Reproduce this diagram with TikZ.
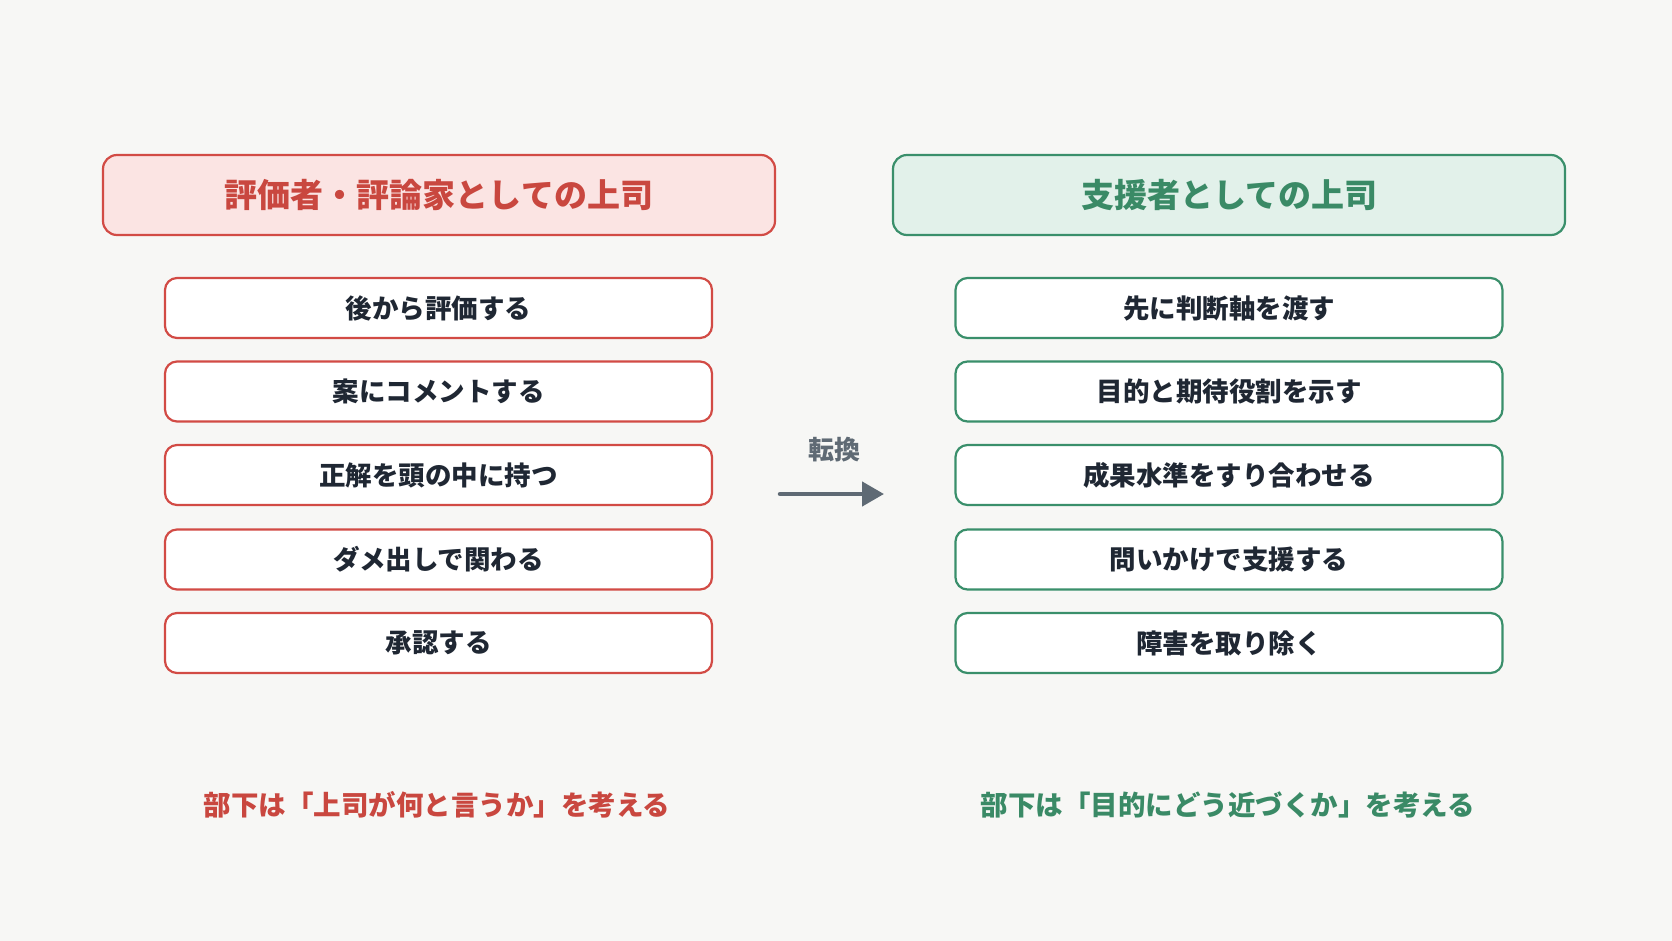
\documentclass[tikz,border=0pt]{standalone}
\usepackage{fontspec}
\setmainfont{Noto Sans CJK JP}
\usetikzlibrary{arrows.meta}
\definecolor{bg}{HTML}{F7F7F5}
\definecolor{redline}{HTML}{D24B45}
\definecolor{redfill}{HTML}{FBE4E3}
\definecolor{redtext}{HTML}{C9473F}
\definecolor{grnline}{HTML}{3A8F6B}
\definecolor{grnfill}{HTML}{E2F1EA}
\definecolor{grntext}{HTML}{3A8A66}
\definecolor{itemtext}{HTML}{1F2733}
\definecolor{arrowc}{HTML}{5F6A74}
\tikzset{
  header/.style={draw, line width=2.2pt, rounded corners=14pt, minimum width=672pt, minimum height=80pt, inner sep=0pt, font=\fontsize{33}{38}\selectfont\bfseries},
  redhead/.style={header, draw=redline, fill=redfill, text=redtext},
  grnhead/.style={header, draw=grnline, fill=grnfill, text=grntext},
  item/.style={draw, line width=2.2pt, rounded corners=12pt, fill=white, minimum width=547pt, minimum height=60pt, inner sep=0pt, text=itemtext, font=\fontsize{26.5}{30}\selectfont\bfseries},
  reditem/.style={item, draw=redline},
  grnitem/.style={item, draw=grnline},
  foot/.style={font=\fontsize{27.5}{32}\selectfont\bfseries},
}
\begin{document}
\begin{tikzpicture}[x=1pt,y=-1pt]
\fill[bg] (0,0) rectangle (1672,941);
\useasboundingbox (0,0) rectangle (1672,941);
\node[redhead] (lh) at (439,195) {評価者・評論家としての上司};
\node[grnhead] (rh) at (1229,195) {支援者としての上司};
\node[reditem] (l1) at (438.5,308) {後から評価する};
\node[reditem] (l2) at (438.5,391.5) {案にコメントする};
\node[reditem] (l3) at (438.5,475) {正解を頭の中に持つ};
\node[reditem] (l4) at (438.5,559.5) {ダメ出しで関わる};
\node[reditem] (l5) at (438.5,643) {承認する};
\node[grnitem] (r1) at (1229,308) {先に判断軸を渡す};
\node[grnitem] (r2) at (1229,391.5) {目的と期待役割を示す};
\node[grnitem] (r3) at (1229,475) {成果水準をすり合わせる};
\node[grnitem] (r4) at (1229,559.5) {問いかけで支援する};
\node[grnitem] (r5) at (1229,643) {障害を取り除く};
\coordinate (as) at (780,494);
\coordinate (ae) at (884,494);
\draw[arrowc, line width=4.5pt, line cap=round, -{Triangle[length=22pt,width=24pt]}] (as) -- (ae);
\node[text=arrowc, font=\fontsize{26}{30}\selectfont\bfseries] (conv) at (834,450) {転換};
\node[foot, text=redtext] (lf) at (437,805) {部下は「上司が何と言うか」を考える};
\node[foot, text=grntext] (rf) at (1228,805) {部下は「目的にどう近づくか」を考える};
\end{tikzpicture}
\end{document}
